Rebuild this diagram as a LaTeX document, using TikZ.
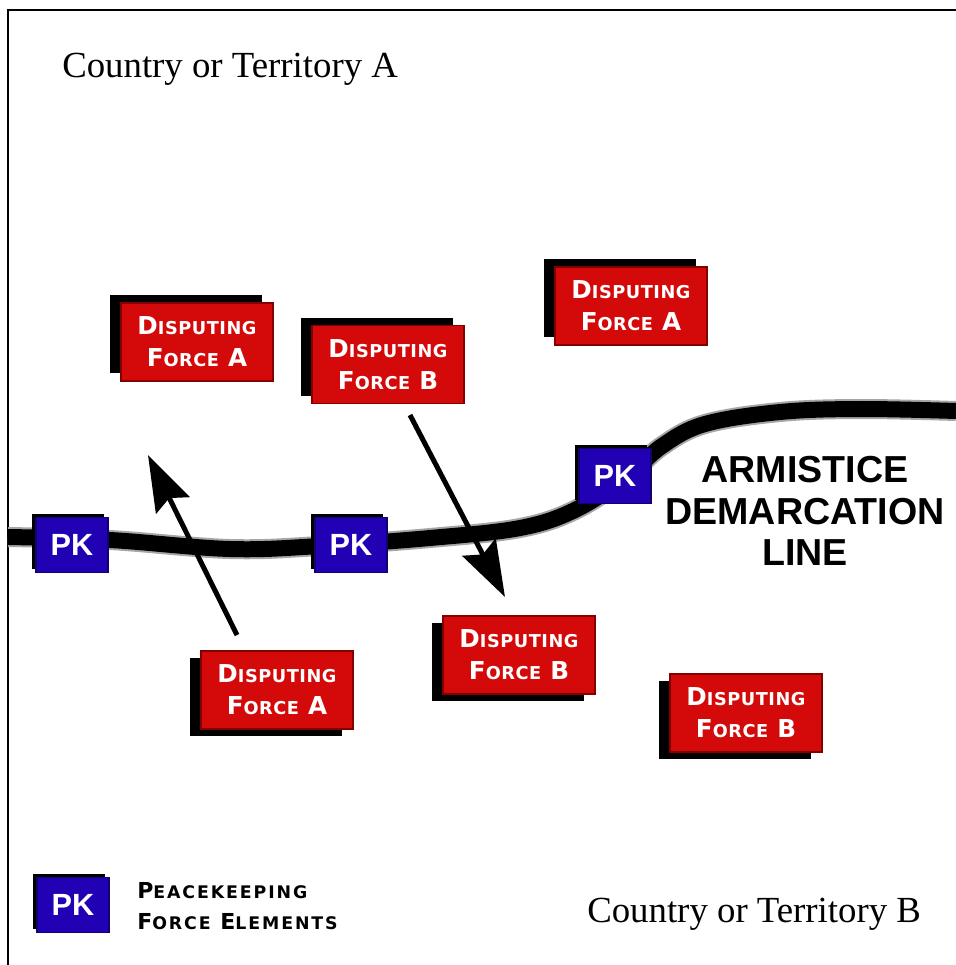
\documentclass[tikz,border=0pt]{standalone}
\usepackage{fontspec}
\setmainfont{Liberation Serif}
\newfontfamily\arialf{Liberation Sans}
\newfontfamily\djv{DejaVu Sans}[LetterSpace=3]
\newfontfamily\djvw{DejaVu Sans}[LetterSpace=11]
\usetikzlibrary{arrows.meta,shadows}
\newcommand\fsc[2]{{\fontsize{18.5}{18.5}\selectfont #1}{\fontsize{13.3}{13.3}\selectfont #2}}
\newcommand\lsc[2]{{\fontsize{16.5}{16.5}\selectfont #1}{\fontsize{13}{13}\selectfont #2}}
\definecolor{dfred}{RGB}{212,10,10}
\definecolor{dfedge}{RGB}{130,0,0}
\definecolor{pkblue}{RGB}{34,0,180}
\definecolor{pkedge}{RGB}{20,0,110}
\begin{document}
\begin{tikzpicture}[x=0.75pt,y=-0.75pt,
  dfbox/.style={fill=dfred, draw=dfedge, line width=0.8pt, minimum width=114pt, minimum height=58.5pt, inner sep=0pt, align=center, text=white, font=\djv\bfseries\fontsize{18}{24}\selectfont},
  shup/.style={drop shadow={shadow xshift=-8pt,shadow yshift=6pt,fill=black,opacity=1}},
  shdown/.style={drop shadow={shadow xshift=-8pt,shadow yshift=-5pt,fill=black,opacity=1}},
  pkbox/.style={fill=pkblue, draw=pkedge, line width=0.8pt, minimum width=54pt, minimum height=41pt, inner sep=0pt, text=white, font=\arialf\bfseries\fontsize{23}{23}\selectfont, drop shadow={shadow xshift=-3pt,shadow yshift=2.5pt,fill=black,opacity=1}},
  arr/.style={line width=3.75pt, -{Stealth[length=42pt,width=28pt,inset=6pt]}},
  country/.style={anchor=base west, inner sep=0pt, font=\fontsize{27.6}{27.6}\selectfont}
]
\useasboundingbox (0,0) rectangle (956,965);
\draw[line width=1.2pt] (8,965) -- (8,10) -- (956,10);

% demarcation line
\draw[line width=15pt, black!35] plot[smooth, tension=0.6] coordinates {(8,537) (110,540) (230,549) (320,546) (430,538) (520,528) (575,510) (625,478) (662,446) (705,424) (780,412) (860,409) (956,411)};
\draw[line width=12pt, black] plot[smooth, tension=0.6] coordinates {(8,537) (110,540) (230,549) (320,546) (430,538) (520,528) (575,510) (625,478) (662,446) (705,424) (780,412) (860,409) (956,411)};

% texts
\node[country] (ca) at (62,77) {Country or Territory A};
\node[country] (cb) at (587,922) {Country or Territory B};
\node[align=center, inner sep=0pt, font=\arialf\bfseries\fontsize{28.2}{31}\selectfont] (adl) at (805,511) {ARMISTICE\\DEMARCATION\\LINE};

% arrows
\coordinate (a1s) at (237,635);
\coordinate (a1e) at (148,455);
\coordinate (a2s) at (410,415);
\coordinate (a2e) at (505,597);
\draw[arr] (a1s) -- (a1e);
\draw[arr] (a2s) -- (a2e);

% disputing forces
\node[dfbox, shup] (df1) at (197,342) {\fsc{D}{ISPUTING}\\\fsc{F}{ORCE}~\fsc{A}{}};
\node[dfbox, shup] (df2) at (388,364.5) {\fsc{D}{ISPUTING}\\\fsc{F}{ORCE}~\fsc{B}{}};
\node[dfbox, shup] (df3) at (631,306) {\fsc{D}{ISPUTING}\\\fsc{F}{ORCE}~\fsc{A}{}};
\node[dfbox, shdown] (df4) at (277,690) {\fsc{D}{ISPUTING}\\\fsc{F}{ORCE}~\fsc{A}{}};
\node[dfbox, shdown] (df5) at (519,655) {\fsc{D}{ISPUTING}\\\fsc{F}{ORCE}~\fsc{B}{}};
\node[dfbox, shdown] (df6) at (746,713) {\fsc{D}{ISPUTING}\\\fsc{F}{ORCE}~\fsc{B}{}};

% peacekeepers
\node[pkbox] (pk1) at (72,545) {PK};
\node[pkbox] (pk2) at (351,545) {PK};
\node[pkbox] (pk3) at (615,476) {PK};
\node[pkbox] (pkl) at (73,905) {PK};

% legend
\node[anchor=west, align=left, inner sep=0pt, font=\djvw\bfseries\fontsize{16}{23}\selectfont] (leg) at (137,906) {\lsc{P}{EACEKEEPING}\\\lsc{F}{ORCE}~\lsc{E}{LEMENTS}};
\end{tikzpicture}
\end{document}
